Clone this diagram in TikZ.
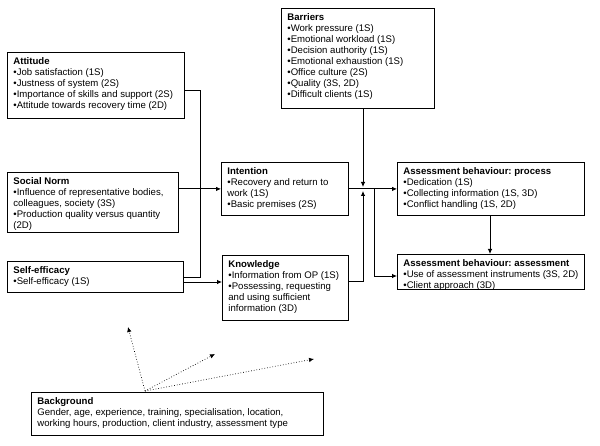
\documentclass[tikz,border=0pt]{standalone}
\usepackage{fontspec}
\setmainfont{Liberation Sans}
\usetikzlibrary{arrows.meta,calc}
\frenchspacing
\newcommand\bxt[3]{\parbox[b][#2pt][t]{\dimexpr#1pt-12pt\relax}{\raggedright\frenchspacing\rule{0pt}{12pt}#3}}
\begin{document}
\begin{tikzpicture}[x=1pt,y=-1pt,
  box/.style={draw,line width=0.8pt,inner xsep=6pt,inner ysep=0pt,anchor=north west,
    font=\fontsize{9.6pt}{11pt}\selectfont},
  conn/.style={line width=0.8pt},
  arr/.style={conn,-{Latex[length=5pt,width=4.5pt]}},
  dot/.style={line width=0.7pt,dotted,-{Latex[length=5pt,width=4.5pt]}}]
\useasboundingbox (0,0) rectangle (600,446);
\node[box] (att) at (7,52) {\bxt{177}{66}{\textbf{Attitude}\\•Job satisfaction (1S)\\•Justness of system (2S)\\•Importance of skills and support (2S)\\•Attitude towards recovery time (2D)}};
\node[box] (soc) at (7,172) {\bxt{171}{60}{\textbf{Social Norm}\\•Influence of representative bodies,\\colleagues, society (3S)\\•Production quality versus quantity\\(2D)}};
\node[box] (self) at (7,261) {\bxt{176}{31}{\textbf{Self-efficacy}\\•Self-efficacy (1S)}};
\node[box] (bar) at (281,8) {\bxt{153}{100}{\textbf{Barriers}\\•Work pressure (1S)\\•Emotional workload (1S)\\•Decision authority (1S)\\•Emotional exhaustion (1S)\\•Office culture (2S)\\•Quality (3S, 2D)\\•Difficult clients (1S)}};
\node[box] (int) at (221,162) {\bxt{127}{53}{\textbf{Intention}\\•Recovery and return to\\work (1S)\\•Basic premises (2S)}};
\node[box] (know) at (222,255) {\bxt{126}{65}{\textbf{Knowledge}\\•Information from OP (1S)\\•Possessing, requesting\\and using sufficient\\information (3D)}};
\node[box] (proc) at (397,162) {\bxt{187}{53}{\textbf{Assessment behaviour: process}\\•Dedication (1S)\\•Collecting information (1S, 3D)\\•Conflict handling (1S, 2D)}};
\node[box] (ass) at (397,254) {\bxt{187}{35}{\textbf{Assessment behaviour: assessment}\\•Use of assessment instruments (3S, 2D)\\•Client approach (3D)}};
\node[box] (bg) at (31,392) {\bxt{292}{43}{\textbf{Background}\\Gender, age, experience, training, specialisation, location,\\working hours, production, client industry, assessment type}};
% coordinates
\coordinate (a1) at (200,90);
\coordinate (a2) at (200,277);
\coordinate (s1) at (183,282);
\coordinate (bt) at (363,187);
\coordinate (kt) at (363,191);
\coordinate (k1) at (363,281);
\coordinate (j1) at (374,189);
\coordinate (j2) at (374,276);
\coordinate (o1) at (145,391);
\coordinate (e1) at (128,327);
\coordinate (e2) at (215,354);
\coordinate (e3) at (314,359);
% connectors
\draw[conn] (att.east |- a1) -- (a1) -- (a2) -- (self.east |- a2);
\draw[arr] (soc.east |- int.west) -- (int.west);
\draw[arr] (s1) -- (know.west |- s1);
\draw[arr] (int.east) -- (proc.west);
\draw[arr] (bar.south -| bt) -- (bt);
\draw[arr] (know.east |- k1) -- (k1) -- (kt);
\draw[arr] (j1) -- (j2) -- (ass.west |- j2);
\draw[arr] (proc.south -| 490,0) -- (ass.north -| 490,0);
\draw[dot] (o1) -- (e1);
\draw[dot] (o1) -- (e2);
\draw[dot] (o1) -- (e3);
\end{tikzpicture}
\end{document}
